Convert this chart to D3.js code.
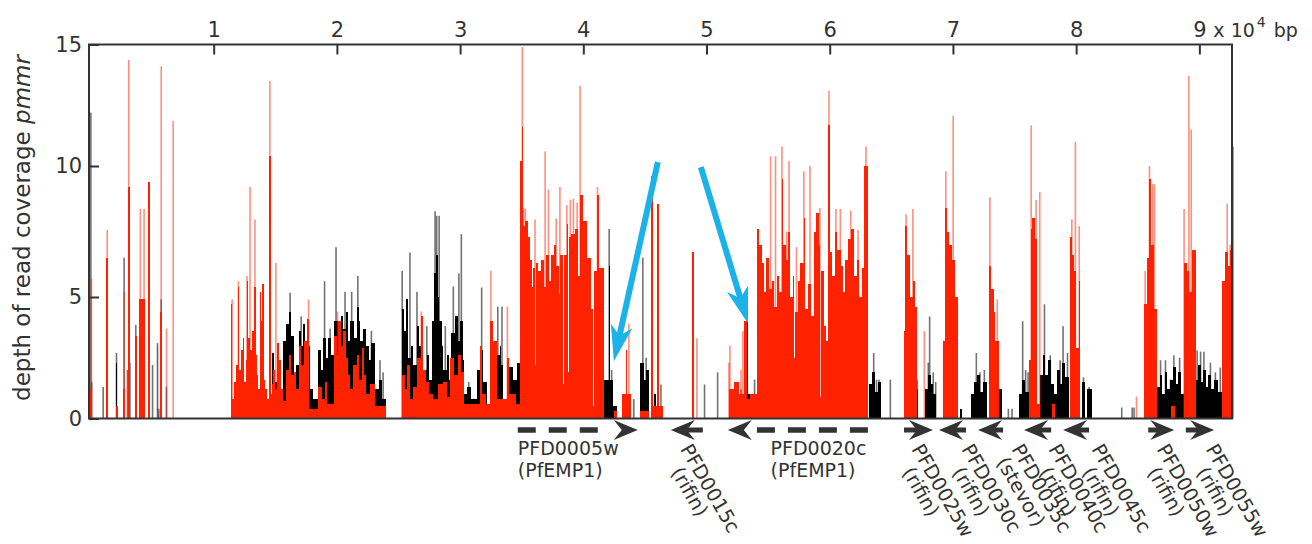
<!DOCTYPE html>
<html>
<head>
<meta charset="utf-8">
<script src="https://cdn.jsdelivr.net/npm/d3@7"></script>
<style>
body { margin: 0; background: #fff; }
svg { display: block; font-family: "DejaVu Sans", sans-serif; }
</style>
</head>
<body>
<svg id="chart" width="1312" height="544"></svg>
<script>
// positions are in kb, depth in pmmr
// bodies are step profiles: [start kb, depth] held until the next start
var redBody = [
    [0, 1.2], [0.15, 0], [1.3, 6.5], [1.42, 0], [2.05, 0.5], [2.2, 0], [2.65, 1.2], [2.8, 0],
    [3.05, 9.2], [3.17, 0], [3.62, 3.4], [3.74, 0], [3.95, 4.9], [4.45, 0], [4.7, 9.4], [4.82, 0],
    [5.4, 3.0], [5.5, 0], [5.68, 4.4], [5.8, 0],
    [11.4, 4.7], [11.52, 0.8], [11.65, 1.5], [11.8, 2.2], [11.95, 5.4], [12.05, 2.0], [12.2, 2.8],
    [12.35, 3.3], [12.5, 1.5], [12.6, 2.4], [12.7, 5.6], [12.8, 3.3], [12.95, 2.8], [13.1, 3.6],
    [13.25, 5.4], [13.4, 2.6], [13.5, 1.8], [13.6, 1.2], [13.75, 5.2], [13.85, 4.0], [13.95, 5.5],
    [14.05, 1.6], [14.2, 1.2], [14.3, 0.8], [14.5, 10.4], [14.62, 1.0], [14.7, 1.4], [14.8, 2.0],
    [14.95, 1.2], [15.1, 3.1], [15.3, 2.4], [15.5, 1.2], [15.65, 0.7], [15.9, 2.0], [16.1, 2.6],
    [16.3, 1.8], [16.5, 1.9], [16.7, 1.2], [16.9, 3.0], [17.1, 2.2], [17.3, 3.2], [17.6, 4.1],
    [17.75, 0.4], [18.5, 1.3], [18.8, 0.8], [19.0, 1.5], [19.2, 0.6], [19.8, 3.4], [20.0, 2.6],
    [20.1, 4.0], [20.3, 3.0], [20.5, 3.6], [20.7, 2.5], [20.9, 1.8], [21.1, 1.2], [21.3, 2.2],
    [21.6, 2.6], [21.8, 1.6], [22.0, 2.9], [22.2, 1.8], [22.4, 1.0], [22.7, 1.4], [23.1, 0.5], [24.0, 0],
    [25.25, 1.8], [25.5, 1.2], [25.7, 2.2], [25.9, 0.8], [26.2, 1.3], [26.5, 2.5], [26.8, 4.2],
    [26.95, 2.0], [27.2, 1.5], [27.5, 1.0], [27.8, 0.8], [28.2, 1.4], [28.65, 1.5], [28.9, 0.9],
    [29.2, 2.5], [29.5, 1.8], [29.8, 2.6], [30.1, 1.9], [30.3, 0.6], [31.6, 3.0], [31.8, 1.0],
    [32.1, 0.6], [32.45, 4.0], [32.7, 3.2], [33.0, 0.8], [33.8, 2.5], [34.0, 1.0], [34.5, 0.6],
    [34.87, 10.2], [35.0, 11.6], [35.08, 7.7], [35.3, 7.9], [35.5, 7.3], [35.7, 6.4], [35.85, 5.4],
    [35.95, 6.1], [36.06, 2.2], [36.12, 6.3], [36.3, 6.0], [36.6, 6.4], [36.8, 5.4], [36.95, 6.6],
    [37.2, 5.6], [37.35, 6.6], [37.6, 7.0], [37.8, 6.2], [38.0, 5.1], [38.1, 6.6], [38.36, 1.4],
    [38.42, 6.6], [38.66, 7.8], [38.77, 1.9], [38.83, 7.3], [39.0, 7.4], [39.3, 5.0], [39.35, 7.6],
    [39.6, 5.8], [39.75, 8.9], [40.0, 7.9], [40.27, 4.2], [40.33, 6.5], [40.6, 4.5], [40.8, 0.5],
    [40.86, 6.0], [41.1, 8.9], [41.3, 6.1], [41.65, 0], [42.5, 0.3], [42.7, 0],
    [43.1, 1.0], [43.45, 2.8], [43.55, 1.0], [43.9, 0], [44.6, 0.3], [45.3, 0],
    [45.5, 9.6], [45.65, 0.5], [46.02, 8.56], [46.12, 0.5], [46.5, 0], [48.85, 6.7], [48.95, 0],
    [51.8, 1.2], [52.2, 1.5], [52.6, 1.0], [53.05, 4.0], [53.3, 0.8], [53.55, 1.0],
    [54.1, 7.6], [54.3, 7.0], [54.5, 6.3], [54.7, 5.2], [54.85, 6.5], [55.05, 5.3], [55.3, 5.6],
    [55.5, 4.6], [55.7, 5.8], [55.9, 5.2], [56.1, 9.5], [56.2, 7.0], [56.45, 6.4], [56.6, 7.5],
    [56.8, 5.0], [57.0, 5.8], [57.12, 2.5], [57.18, 4.4], [57.4, 5.6], [57.6, 6.3], [57.9, 8.0],
    [58.0, 4.5], [58.2, 5.5], [58.5, 4.2], [58.7, 7.5], [58.9, 8.2], [59.1, 7.0], [59.22, 0.9],
    [59.28, 6.0], [59.5, 3.8], [59.7, 3.2], [59.9, 11.67], [60.02, 6.7], [60.2, 5.8], [60.4, 7.5],
    [60.6, 6.8], [60.9, 6.2], [61.1, 5.2], [61.25, 6.4], [61.45, 7.2], [61.7, 7.6], [62.0, 5.8],
    [62.2, 6.4], [62.4, 5.0], [62.6, 6.1], [62.8, 10.0], [63.1, 0],
    [66.0, 3.6], [66.1, 7.7], [66.27, 6.6], [66.54, 5.0], [66.75, 5.6], [66.9, 4.6], [67.1, 0],
    [69.2, 3.2], [69.35, 8.4], [69.5, 7.5], [69.7, 7.0], [69.95, 6.4], [70.2, 5.0], [70.45, 0],
    [72.9, 6.2], [73.1, 5.3], [73.3, 4.4], [73.45, 3.2], [73.7, 0],
    [76.15, 2.4], [76.3, 7.6], [76.45, 8.0], [76.65, 7.2], [76.85, 0.6], [77.1, 0], [78.0, 0.6], [78.3, 0],
    [79.5, 7.3], [79.7, 6.6], [79.85, 6.0], [80.0, 2.9], [80.2, 5.6], [80.35, 0],
    [85.5, 4.7], [85.76, 6.5], [85.95, 9.5], [86.1, 7.0], [86.35, 4.5], [86.6, 0], [87.7, 0.5], [88.0, 0],
    [88.75, 6.3], [88.96, 6.0], [89.2, 5.2], [89.4, 6.8], [89.7, 0],
    [91.8, 5.6], [92.1, 6.7], [92.3, 6.2], [92.5, 6.8], [92.62, 0]
];

// single thin peaks: [kb, depth]
var redSpikes = [
    [0.08, 5.7], [1.36, 7.56], [2.73, 5.2], [3.11, 14.36], [4.05, 8.36], [4.35, 8.36], [4.76, 9.4],
    [5.74, 14.1], [6.17, 3.7], [6.71, 11.85],
    [11.5, 4.9], [12.0, 5.6], [12.7, 5.8], [12.95, 9.2], [13.35, 7.96], [14.56, 13.5], [15.05, 6.3],
    [17.7, 4.9], [20.05, 4.4], [26.85, 4.4],
    [32.5, 6.0], [33.84, 4.6], [35.05, 14.9], [35.15, 8.4], [35.3, 8.36], [36.08, 7.96], [36.9, 10.6],
    [37.17, 9.1], [37.8, 8.0], [38.1, 9.2], [38.66, 8.5], [38.95, 8.7], [39.2, 8.75], [39.5, 8.6],
    [39.74, 13.3], [41.15, 9.2], [43.7, 3.9],
    [49.22, 3.3], [51.82, 2.3], [51.9, 3.0], [52.4, 1.5], [52.8, 2.0], [52.95, 3.6], [55.2, 10.4],
    [55.6, 10.4], [56.12, 10.8], [56.5, 7.5], [56.7, 10.2], [57.3, 6.9], [57.9, 9.8], [58.4, 10.0],
    [59.2, 8.4], [59.94, 13.1], [60.5, 8.36], [60.86, 8.36], [61.7, 8.3], [62.3, 7.56], [62.94, 10.8],
    [66.2, 8.16], [66.75, 8.36], [67.68, 3.6], [69.25, 3.2], [69.42, 9.8], [70.02, 12.07], [73.0, 8.8],
    [73.6, 4.9], [76.35, 11.67], [76.75, 8.7], [77.05, 9.0],
    [79.65, 7.96], [79.94, 11.0], [80.25, 7.7], [84.9, 0.9], [85.6, 6.0], [85.95, 10.0], [86.2, 9.3],
    [86.35, 9.3], [88.76, 8.36], [89.15, 13.7], [89.34, 11.5], [92.26, 8.56], [92.5, 7.0]
];

var blackBody = [
    [2.05, 2.3], [2.17, 0],
    [14.75, 2.7], [14.9, 1.5], [15.1, 1.0], [15.6, 3.2], [15.9, 3.9], [16.15, 4.4], [16.3, 3.4],
    [16.5, 1.3], [16.7, 2.2], [16.9, 3.6], [17.1, 3.0], [17.25, 3.9], [17.4, 2.6], [17.6, 3.0],
    [17.8, 1.2], [18.1, 0.8], [18.5, 2.8], [18.75, 2.0], [18.9, 3.3], [19.1, 2.5], [19.3, 3.3],
    [19.55, 2.6], [19.8, 4.0], [20.1, 3.2], [20.3, 4.2], [20.5, 3.7], [20.7, 4.4], [20.9, 3.2],
    [21.1, 4.0], [21.35, 3.3], [21.6, 4.6], [21.8, 4.0], [21.9, 3.2], [22.15, 3.7], [22.4, 3.0],
    [22.6, 2.4], [22.8, 3.1], [23.1, 1.2], [23.4, 1.6], [23.7, 0.8], [24.0, 0],
    [25.25, 4.5], [25.45, 3.6], [25.6, 4.9], [25.8, 2.5], [26.0, 3.0], [26.2, 2.2], [26.5, 3.8],
    [26.7, 3.0], [27.0, 2.0], [27.3, 2.6], [27.5, 1.6], [27.7, 4.0], [27.85, 5.9], [28.05, 6.6],
    [28.2, 5.0], [28.3, 4.0], [28.5, 3.0], [28.65, 2.0], [28.9, 2.6], [29.1, 1.6], [29.3, 3.5],
    [29.55, 4.2], [29.8, 3.2], [30.0, 4.0], [30.2, 2.4], [30.3, 1.0], [30.6, 1.3], [30.9, 0.8],
    [31.35, 2.0], [31.65, 2.8], [31.85, 1.5], [32.2, 0.4], [33.0, 2.6], [33.2, 3.0], [33.35, 2.2],
    [33.5, 0.6], [34.0, 2.1], [34.3, 1.6], [34.6, 2.3], [34.87, 0],
    [41.65, 1.6], [42.05, 6.2], [42.15, 1.6], [42.45, 0.5], [42.7, 0], [43.2, 0.5], [43.3, 0],
    [44.6, 2.3], [44.9, 1.6], [45.1, 2.0], [45.3, 0], [45.7, 1.0], [45.9, 0.5], [46.3, 0],
    [53.1, 2.0], [53.25, 4.0], [53.4, 1.0], [53.55, 0],
    [63.2, 1.4], [63.45, 1.9], [63.7, 1.1], [63.95, 1.5], [64.2, 0], [67.0, 1.2], [67.2, 0],
    [67.76, 1.2], [67.95, 1.8], [68.2, 1.4], [68.4, 1.0], [68.65, 0], [70.6, 0.4], [70.75, 0],
    [71.5, 1.0], [71.7, 1.5], [71.95, 1.8], [72.2, 1.1], [72.4, 1.5], [72.77, 0], [73.7, 1.2], [74.0, 0],
    [75.35, 1.0], [75.6, 1.6], [75.85, 1.1], [76.15, 0],
    [77.1, 1.8], [77.3, 2.6], [77.5, 1.8], [77.7, 2.4], [77.95, 1.4], [78.2, 1.0], [78.45, 2.0],
    [78.65, 1.4], [78.85, 2.3], [79.1, 1.7], [79.4, 0], [80.5, 1.5], [80.75, 0], [80.9, 1.2], [81.3, 0],
    [86.6, 1.3], [86.8, 1.8], [87.0, 1.0], [87.2, 1.9], [87.4, 1.2], [87.6, 1.6], [87.85, 2.1],
    [88.1, 1.4], [88.3, 1.9], [88.55, 1.0], [88.75, 0],
    [89.7, 1.6], [89.9, 2.2], [90.1, 1.5], [90.3, 2.0], [90.5, 1.3], [90.7, 1.8], [90.95, 1.2],
    [91.2, 1.6], [91.5, 1.1], [91.8, 0], [92.62, 6.6], [92.75, 0]
];

var blackSpikes = [
    [0.03, 12.2], [0.1, 1.5], [1.03, 1.3], [2.11, 2.7], [2.73, 6.5], [3.0, 2.0], [3.2, 2.3], [3.68, 3.85],
    [5.04, 2.2], [5.44, 3.1], [5.55, 0.4], [5.74, 4.9], [6.17, 1.3],
    [12.26, 0.4], [14.83, 2.7], [16.2, 5.16], [17.1, 4.2], [18.6, 2.4], [19.0, 5.6], [19.45, 3.7],
    [19.93, 6.9], [20.66, 5.2], [21.2, 5.2], [21.7, 5.8], [22.8, 3.6], [23.5, 2.4], [23.75, 1.9],
    [25.3, 6.0], [25.93, 6.7], [26.5, 5.2], [27.3, 3.8], [27.97, 8.27], [28.1, 8.1], [28.3, 8.1],
    [28.8, 3.8], [29.45, 5.4], [29.9, 5.9], [30.1, 7.4], [30.7, 1.5], [31.75, 5.36], [33.06, 4.6],
    [33.4, 4.6], [34.2, 2.1], [34.6, 1.4],
    [42.1, 7.6], [42.3, 2.0], [43.26, 1.0], [44.1, 0.8], [44.83, 6.5], [45.1, 2.5], [46.3, 1.4],
    [49.84, 1.4], [50.9, 1.9], [52.0, 1.0], [52.4, 1.3], [52.8, 1.2], [53.3, 4.7], [53.9, 1.6],
    [63.57, 2.7], [63.8, 1.6], [64.0, 1.6], [64.92, 1.6], [67.1, 1.6], [68.0, 2.3], [68.11, 4.2],
    [68.4, 1.9], [68.6, 1.5], [71.9, 2.7], [72.2, 1.9], [72.55, 2.0], [74.5, 0.4], [74.8, 0.4],
    [75.66, 4.0], [75.9, 2.0], [76.1, 1.9],
    [77.43, 4.7], [77.9, 2.6], [78.7, 2.4], [78.94, 3.8], [79.3, 2.7], [80.6, 1.7], [81.05, 1.3],
    [83.7, 0.45], [84.55, 0.45], [84.7, 0.45], [86.85, 2.4], [87.25, 2.4], [87.66, 1.6], [87.93, 2.6],
    [88.4, 2.5], [89.82, 2.8], [90.1, 2.75], [90.37, 2.75], [90.9, 2.3], [91.3, 1.9], [91.7, 2.1],
    [92.72, 10.8]
];

var xTicks = [10, 20, 30, 40, 50, 60, 70, 80, 90];
var yTicks = [0, 5, 10, 15];

// name, product, from kb, to kb (arrow points at "to"), label kb, rotated label
var genes = [
    ["PFD0005w", "(PfEMP1)", 34.68, 44.42, 34.68, false],
    ["PFD0015c", "(rifin)", 49.7, 47.1, 47.83, true],
    ["PFD0020c", "(PfEMP1)", 63.1, 51.73, 55.2, false],
    ["PFD0025w", "(rifin)", 66.03, 68.38, 66.6, true],
    ["PFD0030c", "(rifin)", 71.06, 68.87, 70.66, true],
    ["PFD0035c", "(stevor)", 74.07, 72.04, 74.72, true],
    ["PFD0040c", "(rifin)", 77.97, 75.77, 77.72, true],
    ["PFD0045c", "(rifin)", 81.05, 78.94, 81.2, true],
    ["PFD0050w", "(rifin)", 85.85, 87.96, 86.5, true],
    ["PFD0055w", "(rifin)", 88.9, 91.2, 90.47, true]
];

// highlight arrows: [from kb, from depth, to kb, to depth]
var pointers = [
    [46.05, 10.16, 42.48, 2.36],
    [49.54, 9.96, 53.36, 3.92]
];

var svg = d3.select("#chart");
var ink = "#333";

var x = d3.scaleLinear().domain([-0.12, 92.65]).range([89, 1232]);
// the printed y ticks are not evenly spaced, follow them
var y = d3.scaleLinear().domain([0, 5, 10, 15]).range([418.5, 297, 166, 44.5]);

function steps(body) {
    var out = [];
    for (var i = 0; i < body.length - 1; i++) {
        if (body[i][1] > 0) out.push({x0: body[i][0], x1: body[i + 1][0], v: body[i][1]});
    }
    return out;
}

function drawSeries(body, spikes, color, spikeOpacity) {
    var g = svg.append("g");
    g.selectAll(".body")
        .data(steps(body))
        .enter().append("rect")
        .attr("x", function(d) { return x(d.x0); })
        .attr("width", function(d) { return Math.max(1.2, x(d.x1) - x(d.x0)); })
        .attr("y", function(d) { return y(d.v); })
        .attr("height", function(d) { return y(0) - y(d.v); })
        .attr("shape-rendering", "crispEdges")
        .attr("fill", color);
    g.selectAll(".spike")
        .data(spikes)
        .enter().append("rect")
        .attr("x", function(d) { return x(d[0]) - 0.8; })
        .attr("width", 1.6)
        .attr("y", function(d) { return y(d[1]); })
        .attr("height", function(d) { return y(0) - y(d[1]); })
        .attr("fill", color)
        .attr("fill-opacity", spikeOpacity);
}

drawSeries(blackBody, blackSpikes, "#000", 0.55);
drawSeries(redBody, redSpikes, "#ff2200", 0.5);

// frame and axes
svg.append("rect")
    .attr("x", 89).attr("y", 44.5)
    .attr("width", 1232 - 89).attr("height", 418.5 - 44.5)
    .attr("fill", "none").attr("stroke", ink).attr("stroke-width", 2);

var xAxis = svg.append("g")
    .attr("transform", "translate(0,44.5)")
    .call(d3.axisTop(x).tickValues(xTicks).tickSizeInner(-10).tickSizeOuter(0).tickPadding(8)
        .tickFormat(function(d) { return d / 10; }));
var yAxis = svg.append("g")
    .attr("transform", "translate(89,0)")
    .call(d3.axisLeft(y).tickValues(yTicks).tickSizeInner(-10).tickSizeOuter(0).tickPadding(7));

[xAxis, yAxis].forEach(function(a) {
    a.attr("font-family", "DejaVu Sans").attr("font-size", 21);
    a.select(".domain").remove();
    a.selectAll("line").attr("stroke", ink).attr("stroke-width", 2);
    a.selectAll("text").attr("fill", ink);
});

var unit = svg.append("text")
    .attr("x", x(90) + 14).attr("y", 36.5)
    .attr("font-size", 19).attr("fill", ink);
unit.append("tspan").text("x 10");
unit.append("tspan").attr("font-size", 14).attr("dy", -10).attr("dx", 2).text("4");
unit.append("tspan").attr("dy", 10).attr("dx", 8).text("bp");

var ylab = svg.append("text")
    .attr("transform", "translate(30,228) rotate(-90)")
    .attr("text-anchor", "middle")
    .attr("font-size", 23).attr("fill", ink);
ylab.append("tspan").text("depth of read coverage ");
ylab.append("tspan").attr("font-style", "italic").text("pmmr");

// gene annotation track
var ay = 430;
var genesG = svg.append("g");
genes.forEach(function(gd) {
    var from = x(gd[2]), tip = x(gd[3]);
    var dir = tip > from ? 1 : -1;
    var headLen = 24, notch = 16, half = 10;
    var long = Math.abs(gd[3] - gd[2]) > 5;

    if (long) {
        var len = Math.abs(tip - dir * (headLen + 2) - from);
        var n = Math.floor((len + 13) / 31);
        genesG.append("line")
            .attr("x1", from).attr("x2", from + dir * (n * 31 - 13))
            .attr("y1", ay).attr("y2", ay)
            .attr("stroke", ink).attr("stroke-width", 5.5)
            .attr("stroke-dasharray", "18 13");
    } else if (Math.abs(tip - from) > headLen) {
        genesG.append("line")
            .attr("x1", from).attr("x2", tip - dir * notch)
            .attr("y1", ay).attr("y2", ay)
            .attr("stroke", ink).attr("stroke-width", 5);
    }
    genesG.append("path")
        .attr("d", "M" + tip + "," + ay +
            "L" + (tip - dir * headLen) + "," + (ay - half) +
            "L" + (tip - dir * notch) + "," + ay +
            "L" + (tip - dir * headLen) + "," + (ay + half) + "Z")
        .attr("fill", ink);

    var lab = genesG.append("text").attr("fill", ink);
    if (gd[5]) {
        lab.attr("font-size", 19.5)
            .attr("transform", "translate(" + x(gd[4]) + ",449) rotate(60)");
        lab.append("tspan").attr("x", 0).attr("y", 0).text(gd[0]);
        lab.append("tspan").attr("x", 42).attr("y", 19.5).attr("text-anchor", "middle").text(gd[1]);
    } else {
        lab.attr("font-size", 19)
            .attr("transform", "translate(" + x(gd[4]) + ",454.5)");
        lab.append("tspan").attr("x", 0).attr("y", 0).text(gd[0]);
        lab.append("tspan").attr("x", 0).attr("y", 22.5).text(gd[1]);
    }
});

// cyan pointers
var cyan = "#1ab2e8";
pointers.forEach(function(p) {
    var x0 = x(p[0]), y0 = y(p[1]), x1 = x(p[2]), y1 = y(p[3]);
    var dx = x1 - x0, dy = y1 - y0, L = Math.sqrt(dx * dx + dy * dy);
    var ux = dx / L, uy = dy / L, px = -uy, py = ux;
    var head = 36, back = 26, w = 11;
    svg.append("line")
        .attr("x1", x0).attr("y1", y0)
        .attr("x2", x1 - ux * back).attr("y2", y1 - uy * back)
        .attr("stroke", cyan).attr("stroke-width", 6);
    var bx = x1 - ux * head, by = y1 - uy * head;
    svg.append("path")
        .attr("d", "M" + x1 + "," + y1 +
            "L" + (bx + px * w) + "," + (by + py * w) +
            "L" + (x1 - ux * back) + "," + (y1 - uy * back) +
            "L" + (bx - px * w) + "," + (by - py * w) + "Z")
        .attr("fill", cyan);
});
</script>
</body>
</html>
